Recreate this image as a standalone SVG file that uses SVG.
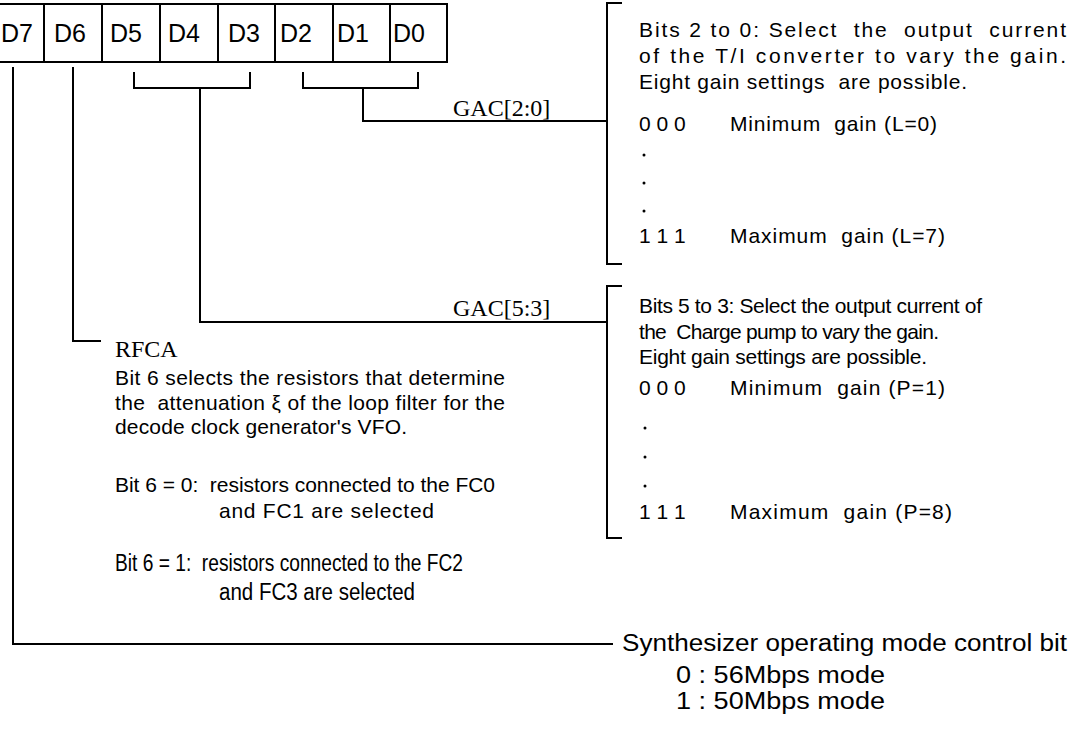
<svg xmlns="http://www.w3.org/2000/svg" width="1070" height="729" viewBox="0 0 1070 729">
<style>
.ln{fill:none;stroke:#000;stroke-width:2;stroke-linecap:square}
.cell{fill:#fff;stroke:#000;stroke-width:2}
.dl{font-family:"Liberation Sans",Arial,sans-serif;font-size:25px;fill:#000}
.t{font-family:"Liberation Sans",Arial,sans-serif;font-size:21px;fill:#000;white-space:pre}
.c{font-family:"Liberation Sans Narrow","Liberation Sans",Arial,sans-serif;font-size:23px;fill:#000;white-space:pre}
.s{font-family:"Liberation Serif","Times New Roman",serif;font-size:24px;fill:#000}
.dot{fill:#000}
</style>
<g id="register">
<rect class="cell" x="-2" y="4" width="46" height="58"/>
<rect class="cell" x="44" y="4" width="58" height="58"/>
<rect class="cell" x="102" y="4" width="58" height="58"/>
<rect class="cell" x="160" y="4" width="58" height="58"/>
<rect class="cell" x="218" y="4" width="57" height="58"/>
<rect class="cell" x="275" y="4" width="58" height="58"/>
<rect class="cell" x="333" y="4" width="57" height="58"/>
<rect class="cell" x="390" y="4" width="57" height="58"/>
<text class="dl" x="1" y="42">D7</text>
<text class="dl" x="54" y="42">D6</text>
<text class="dl" x="110" y="42">D5</text>
<text class="dl" x="168" y="42">D4</text>
<text class="dl" x="228" y="42">D3</text>
<text class="dl" x="280" y="42">D2</text>
<text class="dl" x="337" y="42">D1</text>
<text class="dl" x="393" y="42">D0</text>
</g>
<g id="connectors">
<path class="ln" d="M13 68 V644 H612"/>
<path class="ln" d="M73 68 V341 H100"/>
<path class="ln" d="M134 73 V88 H250 V73 M200 88 V322 H607"/>
<path class="ln" d="M303 73 V88 H418 V73 M363 88 V121 H607"/>
<path class="ln" d="M621 3 H607 V264 H621"/>
<path class="ln" d="M621 286 H607 V538 H621"/>
</g>
<g id="gac20-label"><text class="s" x="453" y="116">GAC[2:0]</text></g>
<g id="gac53-label"><text class="s" x="453" y="316">GAC[5:3]</text></g>
<g id="bits20">
<text class="t" xml:space="preserve" x="639" y="37" textLength="427">Bits 2 to 0: Select  the  output  current</text>
<text class="t" x="639" y="63" textLength="427">of the T/I converter to vary the gain.</text>
<text class="t" xml:space="preserve" x="639" y="89" textLength="328">Eight gain settings  are possible.</text>
<text class="t" x="639" y="131">0 0 0</text>
<text class="t" xml:space="preserve" x="730" y="131" textLength="207">Minimum  gain (L=0)</text>
<circle class="dot" cx="644" cy="155" r="1.5"/>
<circle class="dot" cx="644" cy="183" r="1.5"/>
<circle class="dot" cx="644" cy="211" r="1.5"/>
<text class="t" x="639" y="243">1 1 1</text>
<text class="t" xml:space="preserve" x="730" y="243" textLength="215">Maximum  gain (L=7)</text>
</g>
<g id="bits53">
<text class="t" x="639" y="313" textLength="343">Bits 5 to 3: Select the output current of</text>
<text class="t" xml:space="preserve" x="639" y="339" textLength="300">the  Charge pump to vary the gain.</text>
<text class="t" x="639" y="364" textLength="288">Eight gain settings are possible.</text>
<text class="t" x="639" y="395">0 0 0</text>
<text class="t" xml:space="preserve" x="730" y="395" textLength="215">Minimum  gain (P=1)</text>
<circle class="dot" cx="645" cy="428" r="1.5"/>
<circle class="dot" cx="645" cy="457" r="1.5"/>
<circle class="dot" cx="645" cy="486" r="1.5"/>
<text class="t" x="639" y="519">1 1 1</text>
<text class="t" xml:space="preserve" x="730" y="519" textLength="222">Maximum  gain (P=8)</text>
</g>
<g id="rfca">
<text class="s" x="115" y="357">RFCA</text>
<text class="t" x="115" y="385" textLength="390">Bit 6 selects the resistors that determine</text>
<text class="t" xml:space="preserve" x="115" y="410" textLength="390">the  attenuation ξ of the loop filter for the</text>
<text class="t" x="115" y="434" textLength="292">decode clock generator's VFO.</text>
<text class="t" xml:space="preserve" x="115" y="492" textLength="380">Bit 6 = 0:  resistors connected to the FC0</text>
<text class="t" x="219" y="518" textLength="215">and FC1 are selected</text>
<text class="c" xml:space="preserve" x="115" y="571" textLength="348" lengthAdjust="spacingAndGlyphs">Bit 6 = 1:  resistors connected to the FC2</text>
<text class="c" x="219" y="600" textLength="196" lengthAdjust="spacingAndGlyphs">and FC3 are selected</text>
</g>
<g id="synth">
<text class="c" x="622" y="651" textLength="445" lengthAdjust="spacingAndGlyphs">Synthesizer operating mode control bit</text>
<text class="c" x="676" y="683" textLength="209" lengthAdjust="spacingAndGlyphs">0 : 56Mbps mode</text>
<text class="c" x="676" y="709" textLength="209" lengthAdjust="spacingAndGlyphs">1 : 50Mbps mode</text>
</g>
</svg>
